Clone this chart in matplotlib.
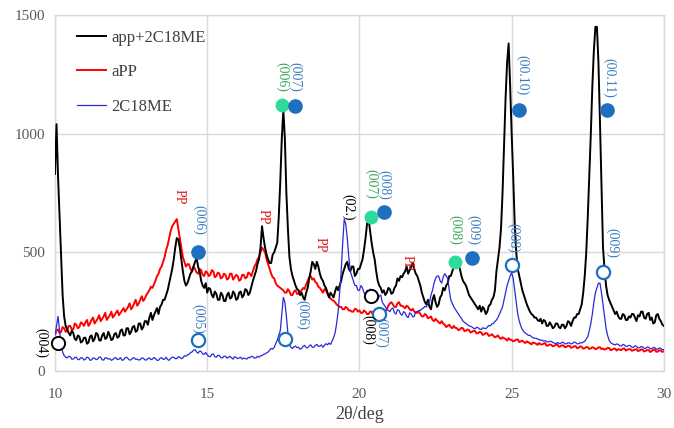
import numpy as np
import matplotlib
matplotlib.use("Agg")
import matplotlib.pyplot as plt

# ---- data (2theta scan, 0.05 deg step, 10..30) ----
two_theta_start = 10.0
two_theta_step = 0.05

app_2c18me = [
    830, 1040, 820, 650, 480, 320, 230, 190, 175, 160, 150, 170, 160, 135, 130, 150, 145, 120, 125, 140,
    140, 115, 120, 145, 150, 125, 135, 160, 155, 130, 128, 150, 160, 135, 140, 165, 150, 130, 135, 155,
    160, 140, 145, 170, 175, 150, 150, 180, 180, 155, 165, 185, 190, 165, 170, 200, 200, 175, 185, 210,
    210, 195, 225, 245, 215, 235, 250, 265, 240, 270, 280, 300, 300, 320, 340, 370, 400, 430, 470, 520,
    560, 555, 520, 470, 420, 380, 360, 370, 390, 410, 420, 440, 460, 475, 440, 420, 380, 360, 350, 370,
    330, 350, 345, 320, 310, 335, 325, 300, 300, 330, 320, 295, 295, 320, 330, 305, 310, 335, 325, 300,
    305, 330, 335, 310, 320, 345, 340, 320, 330, 355, 380, 400, 420, 450, 470, 520, 610, 560, 520, 490,
    470, 455, 455, 490, 500, 520, 540, 650, 800, 980, 1100, 980, 750, 600, 480, 430, 400, 380, 360, 345,
    340, 320, 330, 310, 300, 330, 350, 390, 420, 460, 450, 430, 460, 440, 410, 390, 380, 360, 350, 330,
    310, 330, 320, 310, 335, 355, 340, 360, 380, 410, 430, 450, 460, 430, 420, 440, 440, 400, 410, 430,
    430, 450, 470, 510, 560, 620, 640, 590, 540, 500, 470, 420, 380, 360, 350, 330, 340, 320, 330, 350,
    345, 325, 330, 350, 360, 390, 380, 400, 395, 410, 420, 440, 410, 425, 440, 455, 430, 410, 400, 380,
    360, 330, 310, 290, 280, 300, 270, 260, 300, 320, 290, 270, 280, 310, 320, 350, 340, 360, 370, 400,
    400, 420, 440, 470, 460, 450, 430, 400, 380, 370, 360, 340, 320, 310, 300, 290, 280, 270, 260, 275,
    250, 270, 260, 240, 250, 275, 280, 300, 310, 340, 420, 470, 520, 600, 750, 950, 1150, 1300, 1380, 1200,
    1000, 820, 620, 500, 430, 400, 370, 340, 320, 300, 280, 265, 250, 240, 235, 225, 225, 215, 210, 220,
    200, 215, 210, 190, 190, 205, 195, 180, 185, 200, 200, 185, 180, 195, 195, 180, 190, 210, 205, 190,
    210, 225, 225, 240, 240, 260, 280, 330, 400, 500, 650, 820, 1000, 1200, 1350, 1450, 1450, 1300, 1050, 780,
    520, 430, 360, 320, 300, 285, 270, 255, 240, 250, 230, 220, 220, 240, 235, 215, 215, 230, 225, 240,
    240, 225, 210, 235, 230, 250, 250, 225, 220, 240, 245, 215, 225, 200, 205, 235, 240, 220, 210, 195,
    190,
]

app = [
    150, 170, 175, 160, 165, 185, 180, 165, 170, 190, 190, 175, 175, 200, 195, 180, 185, 205, 200, 190,
    205, 215, 190, 200, 215, 225, 200, 210, 220, 235, 210, 220, 230, 245, 215, 225, 235, 250, 225, 235,
    245, 255, 235, 245, 255, 265, 250, 260, 270, 285, 260, 270, 285, 300, 275, 285, 300, 315, 295, 305,
    320, 330, 340, 355, 350, 365, 380, 400, 410, 430, 440, 460, 480, 510, 530, 560, 590, 610, 620, 630,
    640, 600, 560, 520, 480, 460, 440, 450, 450, 430, 420, 440, 430, 415, 410, 430, 425, 405, 400, 420,
    415, 400, 405, 425, 420, 395, 400, 415, 410, 390, 395, 410, 405, 385, 390, 410, 410, 385, 395, 405,
    400, 380, 385, 405, 405, 390, 395, 415, 410, 400, 420, 440, 450, 470, 480, 500, 520, 510, 500, 470,
    450, 430, 410, 395, 390, 370, 360, 355, 350, 345, 340, 330, 330, 345, 335, 320, 320, 335, 340, 325,
    325, 335, 340, 350, 345, 365, 380, 395, 400, 385, 390, 375, 370, 355, 350, 340, 330, 345, 340, 325,
    315, 305, 300, 295, 290, 280, 275, 270, 270, 260, 260, 270, 265, 255, 255, 250, 250, 262, 260, 250,
    255, 245, 245, 255, 250, 240, 240, 250, 250, 235, 235, 245, 245, 230, 225, 235, 230, 250, 260, 275,
    285, 290, 280, 270, 270, 285, 290, 275, 275, 270, 265, 275, 270, 260, 255, 262, 250, 245, 245, 250,
    240, 230, 230, 240, 235, 222, 225, 230, 215, 210, 220, 212, 205, 200, 210, 200, 195, 185, 190, 195,
    185, 180, 190, 182, 180, 172, 175, 182, 180, 168, 170, 175, 172, 162, 165, 170, 168, 158, 160, 165,
    162, 152, 155, 160, 158, 148, 150, 155, 148, 142, 145, 150, 140, 135, 142, 138, 135, 128, 138, 132,
    130, 125, 128, 132, 133, 122, 125, 128, 122, 118, 125, 120, 118, 112, 120, 118, 115, 110, 118, 112,
    112, 115, 118, 106, 108, 112, 110, 104, 106, 110, 112, 102, 104, 108, 108, 100, 102, 106, 106, 98,
    100, 104, 105, 96, 98, 104, 102, 94, 96, 101, 100, 93, 95, 100, 98, 92, 94, 99, 100, 92,
    95, 90, 92, 97, 97, 88, 90, 94, 94, 86, 92, 90, 88, 94, 95, 86, 90, 92, 92, 85,
    88, 90, 92, 84, 86, 91, 90, 82, 85, 88, 88, 80, 84, 89, 90, 81, 82, 87, 86, 80,
    84,
]

c18me = [
    150, 190, 230, 170, 110, 80, 65, 58, 55, 62, 60, 50, 50, 57, 58, 48, 48, 56, 55, 46,
    50, 58, 56, 45, 47, 55, 54, 48, 50, 59, 58, 47, 46, 56, 55, 50, 52, 45, 48, 55,
    56, 48, 50, 56, 45, 47, 55, 58, 52, 46, 47, 54, 56, 49, 50, 46, 48, 55, 54, 47,
    46, 52, 55, 48, 50, 57, 52, 45, 45, 54, 56, 49, 50, 58, 48, 45, 53, 58, 58, 52,
    52, 60, 58, 52, 55, 64, 62, 68, 70, 78, 80, 88, 90, 80, 75, 84, 82, 72, 70, 78,
    68, 62, 60, 70, 72, 60, 58, 66, 65, 56, 55, 62, 62, 54, 58, 62, 55, 50, 60, 57,
    52, 55, 58, 50, 55, 52, 50, 57, 56, 62, 60, 54, 55, 62, 58, 64, 65, 70, 72, 76,
    80, 88, 95, 92, 100, 115, 130, 150, 170, 240, 310, 290, 230, 160, 110, 100, 95, 102, 105, 98,
    100, 92, 95, 104, 108, 98, 98, 106, 110, 100, 100, 108, 112, 104, 105, 110, 100, 108, 115, 110,
    118, 112, 125, 140, 160, 200, 250, 330, 420, 540, 640, 620, 560, 480, 420, 400, 380, 360, 360, 340,
    340, 360, 350, 330, 320, 340, 330, 345, 340, 325, 310, 320, 300, 315, 320, 290, 280, 270, 260, 255,
    250, 262, 265, 245, 240, 258, 255, 240, 235, 250, 245, 230, 225, 245, 240, 228, 230, 250, 250, 255,
    255, 262, 265, 272, 270, 285, 290, 320, 340, 370, 390, 400, 400, 380, 370, 395, 410, 400, 390, 340,
    300, 285, 270, 260, 250, 240, 230, 222, 210, 205, 200, 195, 190, 188, 185, 180, 178, 184, 182, 176,
    175, 182, 180, 178, 185, 192, 190, 198, 200, 208, 215, 225, 240, 255, 270, 300, 330, 360, 380, 400,
    413, 390, 340, 290, 240, 210, 190, 175, 165, 160, 155, 150, 150, 145, 140, 138, 138, 135, 132, 130,
    130, 126, 128, 124, 122, 125, 125, 120, 118, 114, 120, 117, 115, 121, 120, 115, 114, 119, 118, 114,
    116, 122, 120, 114, 115, 119, 118, 122, 125, 135, 145, 170, 200, 240, 290, 330, 350, 370, 370, 330,
    280, 230, 180, 150, 130, 120, 115, 112, 110, 114, 112, 106, 105, 112, 110, 104, 104, 108, 106, 100,
    100, 106, 104, 97, 98, 103, 102, 96, 95, 101, 100, 93, 94, 99, 98, 92, 92, 97, 95, 90,
    90,
]

series_labels = ["app+2C18ME", "aPP", "2C18ME"]

# annotation marker positions and label positions (data coordinates)
pp_labels = [(14.07, 733), (16.83, 650), (18.72, 530), (21.56, 455)]
green_filled = [(17.45, 1121), (20.38, 650), (23.14, 460)]
green_texts = [("(006)", 17.45, 1239), ("(007)", 20.38, 790), ("(008)", 23.14, 594)]
blue_filled = [(14.7, 500), (17.88, 1117), (20.8, 670), (23.7, 476), (25.24, 1100), (28.13, 1100)]
blue_filled_texts = [("(006)", 14.72, 636), ("(007)", 17.9, 1239), ("(008)", 20.82, 785),
                     ("(009)", 23.72, 594), ("(00.10)", 25.34, 1247), ("(00.11)", 28.2, 1235)]
blue_open = [(14.7, 130), (17.55, 135), (20.64, 240), (25.0, 447), (28.0, 417)]
blue_open_texts = [("(005)", 14.7, 219), ("(006)", 18.12, 236), ("(007)", 20.72, 160),
                   ("(008)", 25.05, 560), ("(009)", 28.3, 540)]
black_open = [(10.1, 118), (20.38, 316)]
black_open_texts = [("(004)", 9.55, 120), ("(008)", 20.27, 173)]
black_text_02 = ("(02.)", 19.62, 690)


def xs(series):
    return two_theta_start + two_theta_step * np.arange(len(series))


plt.rcParams['font.family'] = ['Liberation Serif', 'DejaVu Serif']

fig = plt.figure(figsize=(6.74, 4.28), dpi=100)
ax = fig.add_axes([0.0816, 0.1332, 0.9034, 0.8318])

ax.plot(xs(app_2c18me), app_2c18me, color='black', lw=1.4, label=series_labels[0], zorder=3)
ax.plot(xs(app), app, color='#ff0000', lw=1.4, label=series_labels[1], zorder=2)
ax.plot(xs(c18me), c18me, color='#2a2ad8', lw=0.9, label=series_labels[2], zorder=4)

ax.set_xlim(10, 30)
ax.set_ylim(0, 1500)
ax.set_xticks([10, 15, 20, 25, 30])
ax.set_yticks([0, 500, 1000, 1500])
ax.grid(True, color='#d9d9d9', lw=1.0)
ax.set_axisbelow(True)
for s in ax.spines.values():
    s.set_color('#d9d9d9')
    s.set_linewidth(1.0)
ax.tick_params(length=0, colors='#595959', labelsize=11)
ax.tick_params(axis='x', pad=12)
ax.tick_params(axis='y', pad=7)
ax.set_xlabel('2θ/deg', fontsize=13, color='#404040', labelpad=4)

green_m = '#2edb9c'
green_t = '#3ba65a'
blue_m = '#1f6fc0'
blue_t = '#3a7cc2'
red_t = '#e01818'

tkw = dict(rotation=270, ha='center', va='center', fontsize=10, zorder=6, clip_on=False)

for (px, py) in pp_labels:
    ax.text(px, py, 'PP', color=red_t, **tkw)
for (px, py) in green_filled:
    ax.plot(px, py, 'o', ms=9, color=green_m, mec=green_m, zorder=6)
for (t, px, py) in green_texts:
    ax.text(px, py, t, color=green_t, **tkw)
for (px, py) in blue_filled:
    ax.plot(px, py, 'o', ms=9.5, color=blue_m, mec=blue_m, zorder=6)
for (t, px, py) in blue_filled_texts:
    ax.text(px, py, t, color=blue_t, **tkw)
for (px, py) in blue_open:
    ax.plot(px, py, 'o', ms=9.5, mfc='white', mec=blue_m, mew=1.6, zorder=6)
for (t, px, py) in blue_open_texts:
    ax.text(px, py, t, color=blue_t, **tkw)
for (px, py) in black_open:
    ax.plot(px, py, 'o', ms=9.5, mfc='white', mec='black', mew=1.4, zorder=6, clip_on=False)
for (t, px, py) in black_open_texts:
    ax.text(px, py, t, color='black', **tkw)
ax.text(black_text_02[1], black_text_02[2], black_text_02[0], color='black', **tkw)

leg = ax.legend(loc='upper left', bbox_to_anchor=(0.012, 1.0), frameon=False,
                fontsize=12, labelspacing=1.1, handlelength=1.7, handletextpad=0.35)
for txt in leg.get_texts():
    txt.set_color('#404040')

fig.savefig('out.png', dpi=100)
